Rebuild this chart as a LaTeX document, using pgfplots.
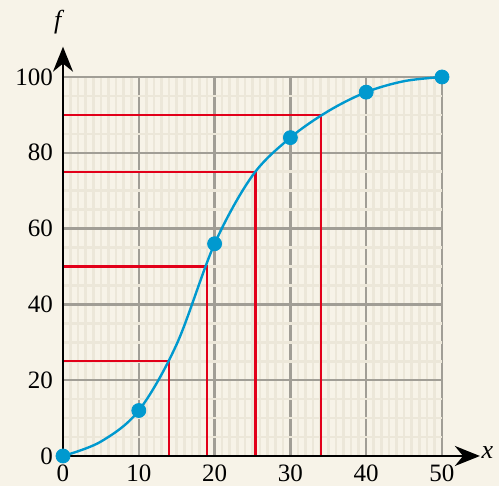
\documentclass[border=0pt]{standalone}
\usepackage{pgfplots}
\pgfplotsset{compat=1.18}
\usetikzlibrary{arrows.meta}
\usepackage{fontspec}
\setmainfont{Liberation Serif}
\definecolor{bg}{HTML}{F7F3E8}
\definecolor{minorg}{HTML}{ECE7D9}
\definecolor{majorg}{HTML}{A19E96}
\definecolor{cblue}{HTML}{0099CF}
\definecolor{cred}{HTML}{E2001A}

\begin{document}
\begin{tikzpicture}
\fill[bg] (-31.5pt,-15pt) rectangle (218pt,228pt);
\begin{axis}[
  at={(0,0)}, anchor=south west,
  scale only axis, width=189.5pt, height=189.5pt,
  xmin=0, xmax=50, ymin=0, ymax=100,
  xtick={0,10,...,50}, ytick={0,20,...,100},
  minor x tick num=9, minor y tick num=3,
  grid=both,
  major grid style={majorg, line width=1.2pt},
  minor grid style={minorg, line width=1.3pt},
  axis line style={draw=none},
  major tick length=0pt, minor tick length=0pt,
  tick style={draw=none},
  clip=false,
  ticklabel style={font=\fontsize{12.5}{14}\selectfont},
  /pgf/number format/assume math mode=true,
  xticklabel style={yshift=-1pt},
  yticklabel style={xshift=-1.5pt},
]
% red reading lines
\addplot[cred, line width=1.2pt] coordinates {(0,25) (14,25) (14,0)};
\addplot[cred, line width=1.2pt] coordinates {(0,50) (19,50) (19,0)};
\addplot[cred, line width=1.2pt] coordinates {(0,75) (25.4,75) (25.4,0)};
\addplot[cred, line width=1.2pt] coordinates {(0,90) (34,90) (34,0)};
% cumulative frequency curve
\addplot[cblue, line width=1.2pt, smooth, tension=0.55] coordinates {
  (0,0) (5,3.8) (10,12) (15,29.5) (20,56) (25,74) (30,84) (35,91) (40,96) (45,98.9) (50,100)
};
\addplot[only marks, mark=*, mark size=3.5pt, cblue, mark options={draw=cblue, fill=cblue}] coordinates {
  (0,0) (10,12) (20,56) (30,84) (40,96) (50,100)
};
\draw[line width=1.2pt, -{Stealth[length=12.5pt,width=10pt]}] (axis cs:0,0) -- (axis cs:55,0);
\draw[line width=1.2pt, -{Stealth[length=12.5pt,width=10pt]}] (axis cs:0,0) -- (axis cs:0,108);
\node[font=\itshape\fontsize{13}{14}\selectfont] at (axis cs:56,0.8) {x};
\node[font=\itshape\fontsize{13}{14}\selectfont] at (axis cs:-0.7,114.5) {f};
\end{axis}
\pgfresetboundingbox
\path[use as bounding box] (-31.5pt,-15pt) rectangle (218pt,228pt);
\end{tikzpicture}
\end{document}
